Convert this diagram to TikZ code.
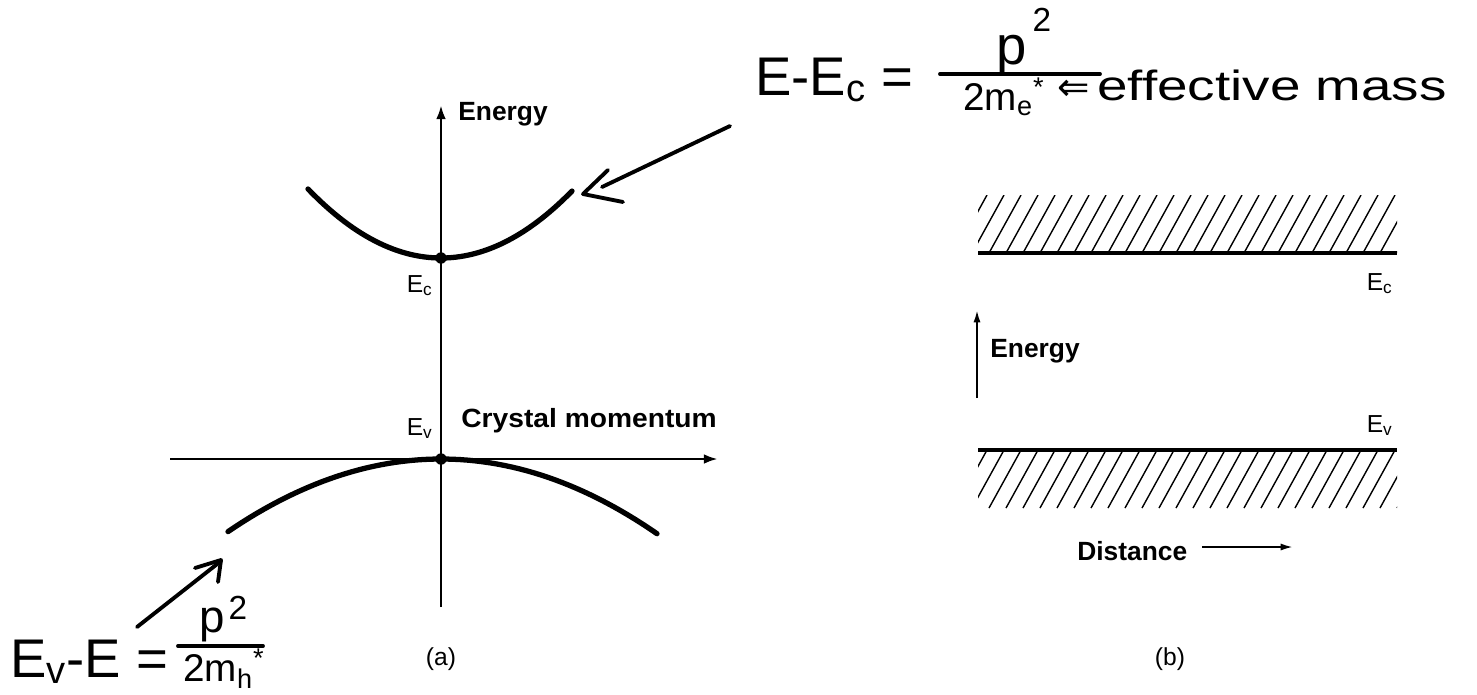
\documentclass[tikz,border=0pt]{standalone}
\usepackage{fontspec}
\setmainfont{Liberation Sans}
\newfontfamily\dejavu{DejaVu Sans}
\usetikzlibrary{arrows.meta}
\begin{document}
\begin{tikzpicture}[x=0.02cm,y=-0.02cm,
  axis/.style={line width=1.6pt,-{Latex[length=8pt,width=5.5pt]}},
  thinaxis/.style={line width=1.1pt,-{Latex[length=7pt,width=4pt]}},
  bandline/.style={line width=2.4pt},
  hatch/.style={line width=0.8pt},
  curve/.style={line width=3pt,line cap=round},
  hand/.style={line width=2.2pt,line cap=round,line join=round},
  lbl/.style={font=\fontsize{15}{18}\selectfont\bfseries,inner sep=0},
  sub/.style={font=\fontsize{14}{17}\selectfont,inner sep=0},
  handtxt/.style={font=\fontsize{31}{36}\selectfont,inner sep=0},
  handsmall/.style={font=\fontsize{26}{30}\selectfont,inner sep=0},
  handden/.style={font=\fontsize{22}{26}\selectfont,inner sep=0},
  handsup/.style={font=\fontsize{19}{22}\selectfont,inner sep=0},
  dot/.style={circle,fill,inner sep=0,minimum size=6.5pt}]
\useasboundingbox (0,0) rectangle (1477,694);
% ---------- panel (a)
\coordinate (vb) at (441,607);
\coordinate (vt) at (441,105);
\coordinate (hl) at (170,459);
\coordinate (hr) at (718,459);
\draw[axis] (vb) -- (vt);
\draw[axis] (hl) -- (hr);
\draw[curve] plot[domain=-133:131,samples=60] ({441+\x},{258-68*(\x/132)^2});
\draw[curve] plot[domain=-213:216,samples=60] ({441+\x},{459+74*(\x/215)^2});
\node[dot] (Ec) at (441,258) {};
\node[dot] (Ev) at (441,459) {};
\node[lbl,anchor=base west] (enA) at (458,120) {Energy};
\node[sub,anchor=base east] (EcA) at (433,292) {E\textsubscript{c}};
\node[sub,anchor=base east] (EvA) at (433,435) {E\textsubscript{v}};
\node[lbl,anchor=base west] (cm) at (461,427) {\scalebox{1.07}[1]{Crystal momentum}};
\node[sub,anchor=base] (la) at (441,665) {(a)};
% ---------- panel (b)
\begin{scope}
  \clip (978,195) rectangle (1397,253);
  \foreach \i in {0,...,27} \draw[hatch] ({955+17*\i},253) -- ++(32,-58);
\end{scope}
\begin{scope}
  \clip (978,450) rectangle (1397,508);
  \foreach \i in {0,...,27} \draw[hatch] ({955+17*\i},508) -- ++(32,-58);
\end{scope}
\coordinate (c1) at (978,253); \coordinate (c2) at (1397,253);
\coordinate (v1) at (978,450); \coordinate (v2) at (1397,450);
\draw[bandline] (c1) -- (c2);
\draw[bandline] (v1) -- (v2);
\node[sub,anchor=base east] (EcB) at (1393,290) {E\textsubscript{c}};
\node[sub,anchor=base east] (EvB) at (1393,432) {E\textsubscript{v}};
\coordinate (eb0) at (977,398); \coordinate (eb1) at (977,310);
\draw[thinaxis] (eb0) -- (eb1);
\node[lbl,anchor=base west] (enB) at (990,357) {Energy};
\node[lbl,anchor=base west] (dist) at (1077,560) {Distance};
\coordinate (d0) at (1202,547); \coordinate (d1) at (1293,547);
\draw[thinaxis] (d0) -- (d1);
\node[sub,anchor=base] (lb) at (1170,665) {(b)};
% ---------- handwritten annotations
\coordinate (ta0) at (730,126); \coordinate (ta1) at (602,187);
\draw[hand] (ta0) -- (ta1);
\draw[hand] (608,170) -- (583,194) -- (623,202);
\node[handtxt,anchor=base west] (topL) at (755,95) {E-E\textsubscript{c} =};
\node[handtxt,anchor=base] (topN) at (1012,64) {p};
\node[handsup] (topS) at (1042,20) {2};
\draw[hand] (940,74) -- (1100,74);
\node[handden,anchor=base] (topD) at (1004,110) {2m\textsubscript{e}\textsuperscript{*}};
\node[font=\fontsize{22}{26}\selectfont\dejavu,inner sep=0,anchor=base] (imp) at (1074,100) {⇐};
\node[font=\fontsize{24}{28}\selectfont,inner sep=0,anchor=base west] (eff) at (1097,100) {\scalebox{1.3}[1]{effective mass}};
\coordinate (ba0) at (137,627); \coordinate (ba1) at (221,561);
\draw[hand] (ba0) -- (ba1);
\draw[hand] (195,568) -- (221,560) -- (218,582);
\node[handtxt,anchor=base west] (botL) at (10,677) {E\textsubscript{v}-E =};
\node[handsmall,anchor=base] (botN) at (212,632) {p};
\node[handsup] (botS) at (238,608) {2};
\draw[hand] (178,646) -- (263,646);
\node[handden,anchor=base] (botD) at (224,681) {2m\textsubscript{h}\textsuperscript{*}};
\end{tikzpicture}
\end{document}
